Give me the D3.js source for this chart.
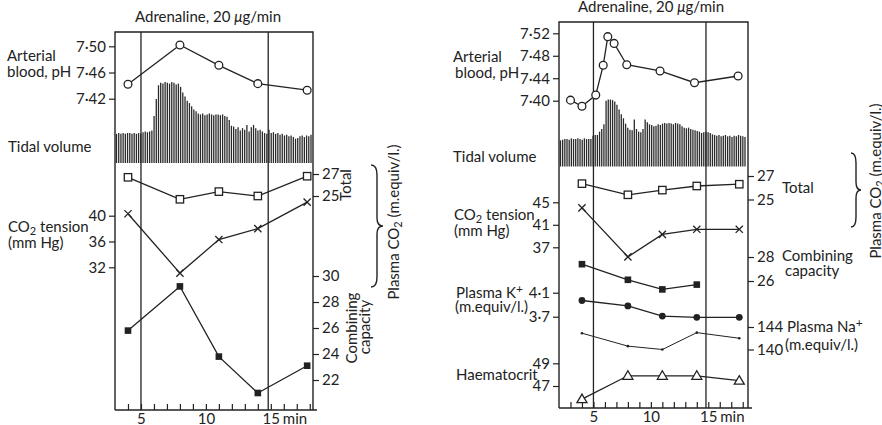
<!DOCTYPE html>
<html>
<head>
<meta charset="utf-8">
<script src="https://cdn.jsdelivr.net/npm/d3@7"></script>
<style>
  html, body { margin: 0; padding: 0; background: #fff; }
  svg { display: block; }
  text { font-family: Lato, "Open Sans", sans-serif; fill: #222; }
</style>
</head>
<body>
<svg id="chart" width="882" height="425"></svg>
<script>
// ---------------- DATA ----------------
// Left experiment
const leftTimes = [4, 8, 11, 14, 17.8];
const leftPH = [7.442, 7.502, 7.471, 7.443, 7.433];
const leftPCO2 = [40.3, 31.1, 36.3, 38.0, 42.1];
const leftTotalCO2 = [26.7, 24.7, 25.4, 25.0, 26.8];
const leftCombining = [25.8, 29.2, 23.8, 21.0, 23.1];
const leftTidal = [36,37,36,37,36,37,37,36,37,36,37,36,
  38,39,38,39,40,
  58,79,96,
  99,98,100,99,98,100,99,97,98,
  94,87,82,77,74,70,66,64,
  61,60,61,59,60,61,60,59,60,60,59,60,58,57,
  53,46,
  45,42,44,40,43,41,47,39,44,47,43,40,41,
  39,37,36,
  41,
  37,38,36,37,35,36,34,35,33,34,32,30,31,33,34,32,34,33,35];

// Right experiment
const rightPHTimes = [3, 4, 5.2, 5.85, 6.25, 6.8, 7.9, 10.8, 13.8, 17.6];
const rightPH = [7.401, 7.390, 7.410, 7.463, 7.514, 7.502, 7.464, 7.453, 7.432, 7.444];
const rightTimes = [4, 8, 11, 14, 17.7];
const rightPCO2 = [44.0, 35.3, 39.3, 40.2, 40.2];
const rightTotalCO2 = [26.35, 25.4, 25.8, 26.15, 26.3];
const rightCombining = [27.4, 26.1, 25.3, 25.7];
const rightK = [3.97, 3.88, 3.71, 3.69, 3.69];
const rightNa = [142.9, 140.6, 140.0, 143.0, 142.0];
const rightHct = [45.85, 47.9, 47.9, 47.9, 47.47];
const rightTidal = [39,40,41,41,40,42,41,41,42,41,40,42,41,41,
  41,
  46,47,47,
  52,56,63,
  98,100,100,99,97,
  92,85,78,72,64,58,55,54,70,56,52,51,56,70,66,63,62,60,
  61,63,62,64,65,64,65,64,63,65,64,63,
  60,58,57,58,56,55,54,53,52,50,
  51,52,51,50,48,
  47,46,47,45,46,47,45,46,44,46,45,47,46,45,44];

// Adrenaline infusion period (min)
const infusion = [5, 14.8];

// Tick values
const leftTimeTicks = [4,5,6,7,8,9,10,11,12,13,14,15,16,17,18];
const rightTimeTicks = [3,4,5,6,7,8,9,10,11,12,13,14,15,16,17,18];
const timeLabels = [5, 10, 15];
const leftPHTicks = [7.42, 7.46, 7.50];
const leftPCO2Ticks = [32, 36, 40];
const leftTotalTicks = [25, 27];
const leftCombTicks = [22, 24, 26, 28, 30];
const rightPHTicks = [7.40, 7.44, 7.48, 7.52];
const rightPCO2Ticks = [37, 41, 45];
const rightTotalTicks = [25, 27];
const rightCombTicks = [26, 28];
const rightKTicks = [3.7, 4.1];
const rightNaTicks = [140, 144];
const rightHctTicks = [47, 49];

// ---------------- DRAWING ----------------
const svg = d3.select("#chart");
const INK = "#222";
const FS = 15;
const dotFmt = (n) => (d) => d.toFixed(n).replace(".", "\u00b7");

function frame(g, x0, x1, y0, y1, xAxisEnd) {
  g.append("path")
    .attr("d", `M${x0},${y1} L${x0},${y0} L${x1},${y0} L${x1},${y1}`)
    .attr("fill", "none").attr("stroke", INK).attr("stroke-width", 1.4);
  g.append("line").attr("x1", x0).attr("x2", xAxisEnd).attr("y1", y1).attr("y2", y1)
    .attr("stroke", INK).attr("stroke-width", 1.4);
}

function styleAxis(sel) {
  sel.select(".domain").remove();
  sel.selectAll(".tick line").attr("stroke", INK).attr("stroke-width", 1.2);
  sel.selectAll(".tick text").attr("font-size", FS).attr("fill", INK)
    .attr("font-family", "Lato, 'Open Sans', sans-serif");
}

function yAxis(g, scale, ticks, fmt, xPos, side) {
  const ax = (side === "left" ? d3.axisLeft(scale) : d3.axisRight(scale))
    .tickValues(ticks).tickSize(6).tickPadding(3).tickFormat(fmt);
  g.append("g").attr("transform", `translate(${xPos},0)`).call(ax).call(styleAxis);
}

function xAxis(g, x, ticks, yPos) {
  const ax = d3.axisBottom(x).tickValues(ticks).tickSize(-6).tickPadding(3)
    .tickFormat(d => timeLabels.includes(d) ? String(d) : "");
  const a = g.append("g").attr("transform", `translate(0,${yPos})`).call(ax).call(styleAxis);
  a.selectAll(".tick text").filter(d => !timeLabels.includes(d)).remove();
  a.selectAll(".tick text").attr("dy", "0.71em");
  g.append("text").attr("x", x(15) + 12).attr("y", yPos + 3).attr("dy", "0.71em")
    .attr("font-size", FS).text("min");
}

function marker(g, type, cx, cy) {
  const s = 3.7;
  if (type === "circle") {
    g.append("circle").attr("cx", cx).attr("cy", cy).attr("r", 3.9)
      .attr("fill", "#fff").attr("stroke", INK).attr("stroke-width", 1.3);
  } else if (type === "dot") {
    g.append("circle").attr("cx", cx).attr("cy", cy).attr("r", 3.4).attr("fill", INK);
  } else if (type === "tiny") {
    g.append("circle").attr("cx", cx).attr("cy", cy).attr("r", 1.3).attr("fill", INK);
  } else if (type === "square") {
    g.append("rect").attr("x", cx - s).attr("y", cy - s).attr("width", 2 * s).attr("height", 2 * s)
      .attr("fill", "#fff").attr("stroke", INK).attr("stroke-width", 1.3);
  } else if (type === "fsquare") {
    g.append("rect").attr("x", cx - 3.3).attr("y", cy - 3.3).attr("width", 6.6).attr("height", 6.6)
      .attr("fill", INK);
  } else if (type === "cross") {
    g.append("path").attr("d", `M${cx-3.6},${cy-3.6}L${cx+3.6},${cy+3.6}M${cx-3.6},${cy+3.6}L${cx+3.6},${cy-3.6}`)
      .attr("stroke", INK).attr("stroke-width", 1.3);
  } else if (type === "triangle") {
    g.append("path").attr("d", `M${cx},${cy-5}L${cx+5},${cy+3.5}L${cx-5},${cy+3.5}Z`)
      .attr("fill", "#fff").attr("stroke", INK).attr("stroke-width", 1.3);
  }
}

function series(g, x, y, times, values, type, width) {
  const pts = values.map((v, i) => [x(times[i]), y(v)]);
  g.append("path").attr("d", d3.line()(pts)).attr("fill", "none")
    .attr("stroke", INK).attr("stroke-width", width || 1.3);
  pts.forEach(p => marker(g, type, p[0], p[1]));
}

function tidal(g, values, xr, yScale) {
  const xi = d3.scaleLinear().domain([0, values.length - 1]).range(xr);
  g.selectAll(null).data(values).enter().append("line")
    .attr("x1", (d, i) => xi(i)).attr("x2", (d, i) => xi(i))
    .attr("y1", yScale(0)).attr("y2", d => yScale(d))
    .attr("stroke", "#2a2a2a").attr("stroke-width", 1.3);
}

function brace(g, x0, y0, y1, w) {
  const ym = (y0 + y1) / 2, h = w / 2;
  const d = `M${x0},${y0} Q${x0+h},${y0} ${x0+h},${y0+10} L${x0+h},${ym-8} Q${x0+h},${ym} ${x0+w},${ym}` +
            ` Q${x0+h},${ym} ${x0+h},${ym+8} L${x0+h},${y1-10} Q${x0+h},${y1} ${x0},${y1}`;
  g.append("path").attr("d", d).attr("fill", "none").attr("stroke", INK).attr("stroke-width", 1.4);
}

function text(g, x, y, str, opts = {}) {
  const t = g.append("text").attr("x", x).attr("y", y).attr("font-size", opts.size || FS)
    .attr("text-anchor", opts.anchor || "start");
  if (opts.rotate) t.attr("transform", `rotate(-90,${x},${y})`);
  return t.text(str);
}

function co2Text(g, x, y, before, after, opts = {}) {
  const t = g.append("text").attr("x", x).attr("y", y).attr("font-size", FS)
    .attr("text-anchor", opts.anchor || "start");
  if (opts.rotate) t.attr("transform", `rotate(-90,${x},${y})`);
  t.append("tspan").text(before + "CO");
  t.append("tspan").attr("font-size", 11).attr("dy", 3).text("2");
  t.append("tspan").attr("dy", -3).text(after);
  return t;
}

function supText(g, x, y, main, sup) {
  const t = g.append("text").attr("x", x).attr("y", y).attr("font-size", FS);
  t.append("tspan").text(main);
  t.append("tspan").attr("font-size", 12).attr("dy", -5).text(sup);
}

function titleText(g, cx, y) {
  const t = g.append("text").attr("x", cx).attr("y", y).attr("font-size", FS).attr("text-anchor", "middle");
  t.append("tspan").text("Adrenaline, 20 ");
  t.append("tspan").attr("font-style", "italic").text("\u03bc");
  t.append("tspan").text("g/min");
}

// ======== LEFT PANEL ========
{
  const g = svg.append("g");
  const L = 115, R = 313, T = 32, B = 410;
  const x = d3.scaleLinear().domain([3, 18.25]).range([L, R]);
  const yPH = d3.scaleLinear().domain([7.42, 7.50]).range([98.7, 46.3]);
  const yTid = d3.scaleLinear().domain([0, 100]).range([163, 82]);
  const yPCO2 = d3.scaleLinear().domain([32, 40]).range([267.3, 215.7]);
  const yTot = d3.scaleLinear().domain([25, 27]).range([196, 174]);
  const yComb = d3.scaleLinear().domain([22, 30]).range([380, 276]);

  tidal(g, leftTidal, [116.5, 311], yTid);
  frame(g, L, R, T, B, 317);
  infusion.forEach(t => g.append("line").attr("x1", x(t)).attr("x2", x(t)).attr("y1", T).attr("y2", B)
    .attr("stroke", INK).attr("stroke-width", 1.3));

  yAxis(g, yPH, leftPHTicks, dotFmt(2), L, "left");
  yAxis(g, yPCO2, leftPCO2Ticks, d3.format("d"), L, "left");
  yAxis(g, yTot, leftTotalTicks, d3.format("d"), R, "right");
  yAxis(g, yComb, leftCombTicks, d3.format("d"), R, "right");
  xAxis(g, x, leftTimeTicks, B);

  series(g, x, yPH, leftTimes, leftPH, "circle");
  series(g, x, yTot, leftTimes, leftTotalCO2, "square");
  series(g, x, yPCO2, leftTimes, leftPCO2, "cross");
  series(g, x, yComb, leftTimes, leftCombining, "fsquare");

  titleText(g, 208, 22);
  text(g, 7, 61, "Arterial");
  text(g, 7, 77, "blood, pH");
  text(g, 8, 152, "Tidal volume");
  co2Text(g, 8, 232, "", " tension");
  text(g, 8, 248, "(mm Hg)");
  text(g, 351, 185, "Total", { rotate: true, anchor: "middle" });
  text(g, 357, 328, "Combining", { rotate: true, anchor: "middle" });
  text(g, 370, 327, "capacity", { rotate: true, anchor: "middle" });
  co2Text(g, 399, 222, "Plasma ", " (m.equiv/l.)", { rotate: true, anchor: "middle" });
  brace(g, 371, 165, 287, 12);
}

// ======== RIGHT PANEL ========
{
  const g = svg.append("g");
  const L = 559, R = 748, T = 22, B = 408;
  const x = d3.scaleLinear().domain([2, 18.46]).range([L, R]);
  const yPH = d3.scaleLinear().domain([7.40, 7.52]).range([100.7, 33.3]);
  const yTid = d3.scaleLinear().domain([0, 100]).range([166.5, 99.5]);
  const yPCO2 = d3.scaleLinear().domain([37, 45]).range([247.3, 202.3]);
  const yTot = d3.scaleLinear().domain([25, 27]).range([199.5, 176]);
  const yComb = d3.scaleLinear().domain([26, 28]).range([281, 257]);
  const yK = d3.scaleLinear().domain([3.7, 4.1]).range([316.7, 292.7]);
  const yNa = d3.scaleLinear().domain([140, 144]).range([349.5, 327]);
  const yHct = d3.scaleLinear().domain([47, 49]).range([386, 363.3]);

  tidal(g, rightTidal, [560.5, 745], yTid);
  frame(g, L, R, T, B, 752);
  infusion.forEach(t => g.append("line").attr("x1", x(t)).attr("x2", x(t)).attr("y1", T).attr("y2", B)
    .attr("stroke", INK).attr("stroke-width", 1.3));

  yAxis(g, yPH, rightPHTicks, dotFmt(2), L, "left");
  yAxis(g, yPCO2, rightPCO2Ticks, d3.format("d"), L, "left");
  yAxis(g, yK, rightKTicks, dotFmt(1), L, "left");
  yAxis(g, yHct, rightHctTicks, d3.format("d"), L, "left");
  yAxis(g, yTot, rightTotalTicks, d3.format("d"), R, "right");
  yAxis(g, yComb, rightCombTicks, d3.format("d"), R, "right");
  yAxis(g, yNa, rightNaTicks, d3.format("d"), R, "right");
  xAxis(g, x, rightTimeTicks, B);

  series(g, x, yPH, rightPHTimes, rightPH, "circle");
  series(g, x, yTot, rightTimes, rightTotalCO2, "square");
  series(g, x, yPCO2, rightTimes, rightPCO2, "cross");
  series(g, x, yComb, rightTimes.slice(0, rightCombining.length), rightCombining, "fsquare");
  series(g, x, yK, rightTimes, rightK, "dot");
  series(g, x, yNa, rightTimes, rightNa, "tiny", 1);
  series(g, x, yHct, rightTimes, rightHct, "triangle");

  titleText(g, 651, 12);
  text(g, 453, 62, "Arterial");
  text(g, 455, 78, "blood, pH");
  text(g, 453, 162, "Tidal volume");
  co2Text(g, 454, 220, "", " tension");
  text(g, 454, 236, "(mm Hg)");
  supText(g, 456, 298, "Plasma K", "+");
  text(g, 455, 312, "(m.equiv/l.)");
  text(g, 456, 380, "Haematocrit");
  text(g, 782, 193, "Total");
  text(g, 782, 261, "Combining");
  text(g, 785, 276, "capacity");
  supText(g, 787, 332, "Plasma Na", "+");
  text(g, 785, 350, "(m.equiv/l.)");
  co2Text(g, 881, 181, "Plasma ", " (m.equiv/l.)", { rotate: true, anchor: "middle" });
  brace(g, 851, 153, 227, 10);
}
</script>
</body>
</html>
